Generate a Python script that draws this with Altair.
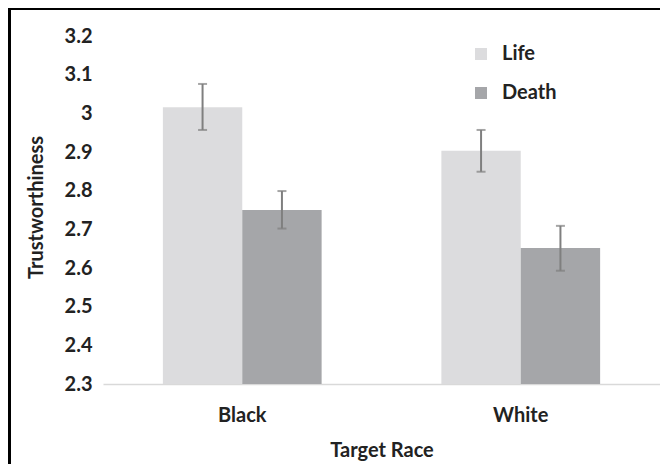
import altair as alt
import pandas as pd

races = ["Black", "Black", "White", "White"]
conditions = ["Life", "Death", "Life", "Death"]
means = [3.016, 2.750, 2.903, 2.652]
err_low = [2.957, 2.702, 2.849, 2.593]
err_high = [3.076, 2.799, 2.957, 2.709]
y_ticks = [2.3, 2.4, 2.5, 2.6, 2.7, 2.8, 2.9, 3.0, 3.1, 3.2]
cond_order = ["Life", "Death"]
cond_colors = ["#dcdcde", "#a5a6a9"]

df = pd.DataFrame({"race": races, "cond": conditions, "mean": means,
                   "lo": err_low, "hi": err_high})

FONT = "Lato"
TXT = "#222222"
FS = 20
W, H = 557, 348

xenc = alt.X("race:N", title="Target Race",
             scale=alt.Scale(paddingInner=0.43, paddingOuter=0.215),
             axis=alt.Axis(labelAngle=0, ticks=False, labelPadding=21, titlePadding=15,
                           domainColor="#d9d9d9", domainWidth=1.5))
xoff = alt.XOffset("cond:N", sort=cond_order, scale=alt.Scale(paddingInner=0))
yscale = alt.Scale(domain=[2.3, 3.2], zero=False, nice=False)
yaxis = alt.Axis(values=y_ticks, format="~g", domain=False, ticks=False,
                 grid=False, labelPadding=11, labelOverlap=False,
                 titleX=-67, titleY=H / 2 - 3, titleBaseline="middle")

base = alt.Chart(df)

bars = base.mark_bar().encode(
    x=xenc,
    xOffset=xoff,
    y=alt.Y("mean:Q", scale=yscale, title="Trustworthiness", axis=yaxis),
    y2=alt.datum(2.3),
    color=alt.Color("cond:N", sort=cond_order,
                    scale=alt.Scale(domain=cond_order, range=cond_colors),
                    legend=alt.Legend(title=None, orient="none", legendX=368, legendY=8,
                                      symbolType="square", symbolSize=144,
                                      symbolStrokeWidth=0, labelFontSize=FS,
                                      labelFont=FONT, labelFontWeight="bold",
                                      labelColor=TXT, labelOffset=11, rowPadding=19)),
)

rules = base.mark_rule(color="#7f7f7f", strokeWidth=2).encode(
    x=xenc, xOffset=xoff,
    y=alt.Y("lo:Q", scale=yscale, title="Trustworthiness", axis=yaxis), y2="hi:Q",
)
caps_lo = base.mark_tick(color="#7f7f7f", thickness=2, size=9, orient="horizontal").encode(
    x=xenc, xOffset=xoff,
    y=alt.Y("lo:Q", scale=yscale, title="Trustworthiness", axis=yaxis))
caps_hi = base.mark_tick(color="#7f7f7f", thickness=2, size=9, orient="horizontal").encode(
    x=xenc, xOffset=xoff,
    y=alt.Y("hi:Q", scale=yscale, title="Trustworthiness", axis=yaxis))

frame_left = alt.Chart(df).mark_rule(color="#000000", strokeWidth=3).encode(
    x=alt.value(-93.5), y=alt.value(-40), y2=alt.value(H + 100))
frame_top = alt.Chart(df).mark_rule(color="#000000", strokeWidth=3).encode(
    x=alt.value(-95), x2=alt.value(W + 10), y=alt.value(-27.5))

chart = alt.layer(bars, rules, caps_lo, caps_hi, frame_left, frame_top).properties(
    width=W, height=H,
    padding={"left": 95, "top": 28, "right": 0, "bottom": 80},
    autosize=alt.AutoSizeParams(type="none"),
).configure_view(stroke=None).configure_axis(
    labelFont=FONT, titleFont=FONT, labelFontSize=FS, titleFontSize=FS,
    labelFontWeight="bold", titleFontWeight="bold", labelColor=TXT, titleColor=TXT,
    labelOverlap=False,
)

chart.save("out.html", embed_options={"renderer": "svg", "actions": False})
